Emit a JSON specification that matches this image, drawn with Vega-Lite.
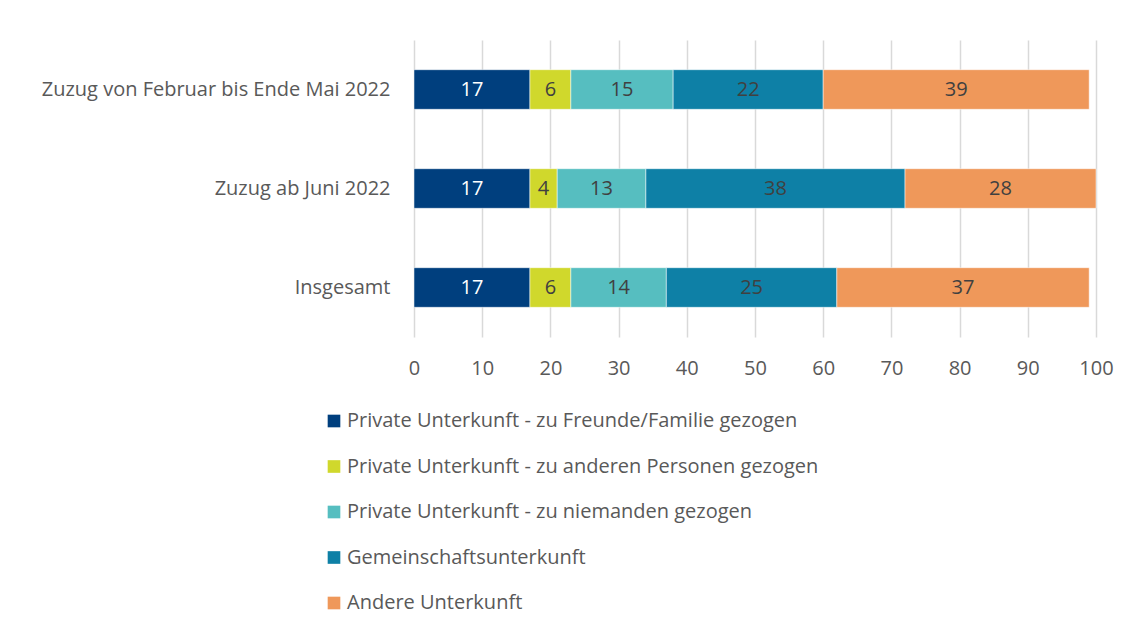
{
  "$schema": "https://vega.github.io/schema/vega-lite/v6.json",
  "autosize": "none",
  "width": 682,
  "height": 297,
  "padding": {"left": 414, "top": 40, "right": 36, "bottom": 293},
  "background": "white",
  "config": {
    "view": {"stroke": null},
    "font": "Open Sans",
    "axis": {"labelFont": "Open Sans", "labelColor": "#595959", "labelFontSize": 20, "labelLimit": 0},
    "legend": {"labelFont": "Open Sans", "labelColor": "#595959", "labelFontSize": 20, "labelLimit": 0}
  },
  "data": {
    "values": [
      {"gruppe": "Zuzug von Februar bis Ende Mai 2022", "kat": "Private Unterkunft - zu Freunde/Familie gezogen", "k": 1, "wert": 17},
      {"gruppe": "Zuzug von Februar bis Ende Mai 2022", "kat": "Private Unterkunft - zu anderen Personen gezogen", "k": 2, "wert": 6},
      {"gruppe": "Zuzug von Februar bis Ende Mai 2022", "kat": "Private Unterkunft - zu niemanden gezogen", "k": 3, "wert": 15},
      {"gruppe": "Zuzug von Februar bis Ende Mai 2022", "kat": "Gemeinschaftsunterkunft", "k": 4, "wert": 22},
      {"gruppe": "Zuzug von Februar bis Ende Mai 2022", "kat": "Andere Unterkunft", "k": 5, "wert": 39},
      {"gruppe": "Zuzug ab Juni 2022", "kat": "Private Unterkunft - zu Freunde/Familie gezogen", "k": 1, "wert": 17},
      {"gruppe": "Zuzug ab Juni 2022", "kat": "Private Unterkunft - zu anderen Personen gezogen", "k": 2, "wert": 4},
      {"gruppe": "Zuzug ab Juni 2022", "kat": "Private Unterkunft - zu niemanden gezogen", "k": 3, "wert": 13},
      {"gruppe": "Zuzug ab Juni 2022", "kat": "Gemeinschaftsunterkunft", "k": 4, "wert": 38},
      {"gruppe": "Zuzug ab Juni 2022", "kat": "Andere Unterkunft", "k": 5, "wert": 28},
      {"gruppe": "Insgesamt", "kat": "Private Unterkunft - zu Freunde/Familie gezogen", "k": 1, "wert": 17},
      {"gruppe": "Insgesamt", "kat": "Private Unterkunft - zu anderen Personen gezogen", "k": 2, "wert": 6},
      {"gruppe": "Insgesamt", "kat": "Private Unterkunft - zu niemanden gezogen", "k": 3, "wert": 14},
      {"gruppe": "Insgesamt", "kat": "Gemeinschaftsunterkunft", "k": 4, "wert": 25},
      {"gruppe": "Insgesamt", "kat": "Andere Unterkunft", "k": 5, "wert": 37}
    ]
  },
  "transform": [
    {"stack": "wert", "groupby": ["gruppe"], "sort": [{"field": "k", "order": "ascending"}], "as": ["x0", "x1"]},
    {"calculate": "(datum.x0 + datum.x1) / 2", "as": "xm"}
  ],
  "encoding": {
    "y": {
      "field": "gruppe", "type": "nominal",
      "sort": ["Zuzug von Februar bis Ende Mai 2022", "Zuzug ab Juni 2022", "Insgesamt"],
      "scale": {"paddingInner": 0.6, "paddingOuter": 0.3},
      "axis": {"title": null, "domain": false, "ticks": false, "labelPadding": 24, "grid": false}
    }
  },
  "layer": [
    {
      "mark": {"type": "bar", "stroke": "white", "strokeWidth": 0.5},
      "encoding": {
        "x": {
          "field": "x0", "type": "quantitative",
          "scale": {"domain": [0, 100], "nice": false},
          "axis": {"title": null, "values": [0,10,20,30,40,50,60,70,80,90,100], "grid": true, "gridColor": "#d9d9d9", "gridWidth": 1.5, "domain": false, "ticks": false, "labelPadding": 21, "labelFlush": false}
        },
        "x2": {"field": "x1"},
        "color": {
          "field": "kat", "type": "nominal",
          "scale": {
            "domain": ["Private Unterkunft - zu Freunde/Familie gezogen", "Private Unterkunft - zu anderen Personen gezogen", "Private Unterkunft - zu niemanden gezogen", "Gemeinschaftsunterkunft", "Andere Unterkunft"],
            "range": ["#003f7e", "#d0d82c", "#56bec0", "#0e80a6", "#ef985a"]
          },
          "legend": {
            "title": null, "orient": "none", "direction": "vertical",
            "legendX": -90, "legendY": 371,
            "symbolType": "square", "symbolSize": 160, "symbolStrokeWidth": 0, "symbolOpacity": 1,
            "rowPadding": 25.5, "labelOffset": 3
          }
        }
      }
    },
    {
      "mark": {"type": "text", "fontSize": 20, "font": "Open Sans"},
      "encoding": {
        "x": {"field": "xm", "type": "quantitative"},
        "text": {"field": "wert", "type": "quantitative"},
        "color": {
          "condition": {"test": "datum.k == 1", "value": "white"},
          "value": "#404040"
        }
      }
    }
  ]
}
